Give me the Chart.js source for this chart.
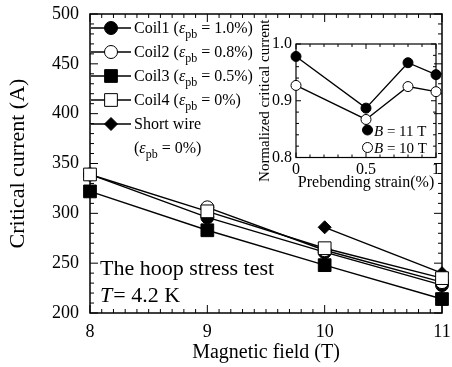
<!DOCTYPE html>
<html>
<head>
<meta charset="utf-8">
<script src="https://cdn.jsdelivr.net/npm/chart.js@4.4.0/dist/chart.umd.min.js"></script>
<style>
  html, body { margin: 0; padding: 0; background: #fff; }
  #wrap { position: relative; width: 452px; height: 367px; }
  #main { position: absolute; left: 0; top: 0; }
  #inset { position: absolute; left: 248px; top: 0; }
</style>
</head>
<body>
<div id="wrap">
  <canvas id="main" width="452" height="367" style="width:452px;height:367px"></canvas>
  <canvas id="inset" width="200" height="195" style="width:200px;height:195px"></canvas>
</div>
<script>
// --- main plot data (critical current vs field) ---
const fieldT = [8, 9, 10, 11];
const coil1Ic = [339, 296, 261, 228];
const coil2Ic = [null, 306, 263, 231];   // no 8 T point for coil2
const coil3Ic = [322, 283, 248, 214];
const coil4Ic = [339, 302, 265, 235];
const shortWireField = [10, 11];
const shortWireIc = [286, 240];

const seriesNames = ['Coil1', 'Coil2', 'Coil3', 'Coil4', 'Short wire'];
const prebendLabels = ['1.0%', '0.8%', '0.5%', '0%', '0%'];

const icTicks = [200, 250, 300, 350, 400, 450, 500];
const fieldTicks = [8, 9, 10, 11];

// --- inset data (normalized Ic vs prebending strain) ---
const strainPct = [0, 0.5, 0.8, 1.0];
const norm11T = [0.978, 0.887, 0.967, 0.946];
const norm10T = [0.927, 0.867, 0.925, 0.916];
const insetNames = ['11 T', '10 T'];

const normTicks = [0.8, 0.9, 1.0];
const strainTicks = [0, 0.5, 1];

const SERIF = '"Liberation Serif", "Times New Roman", serif';
Chart.defaults.font.family = SERIF;
Chart.defaults.color = '#000';

const pairs = (xs, ys) => xs.map((x, i) => ({ x: x, y: ys[i] }));

// 텍스트 조각 그리기 (italic / subscript)
function drawRich(ctx, x, y, parts, size) {
    ctx.textAlign = 'left';
    ctx.textBaseline = 'alphabetic';
    parts.forEach(([t, kind]) => {
        const fs = kind === 's' ? Math.round(size * 0.75) : size;
        ctx.font = (kind === 'i' ? 'italic ' : '') + fs + 'px ' + SERIF;
        ctx.fillText(t, x, y + (kind === 's' ? size * 0.33 : 0));
        x += ctx.measureText(t).width;
    });
    return x;
}

function drawMarker(ctx, ds, x, y) {
    ctx.save();
    ctx.fillStyle = ds.pointBackgroundColor;
    ctx.strokeStyle = ds.pointBorderColor;
    ctx.lineWidth = ds.pointBorderWidth;
    Chart.helpers.drawPoint(ctx, {
        pointStyle: ds.pointStyle,
        radius: ds.pointRadius,
        borderWidth: ds.pointBorderWidth,
        rotation: 0
    }, x, y);
    ctx.restore();
}

// inward ticks on all four sides + frame
const frameTicks = {
    id: 'frameTicks',
    beforeDatasetsDraw(chart, args, o) {
        const { ctx, chartArea: a, scales: { x, y } } = chart;
        ctx.save();
        ctx.strokeStyle = '#000';
        ctx.lineWidth = o.tickWidth;
        const isMajor = (scale, v) => scale.ticks.some(t => Math.abs(t.value - v) < 1e-6);

        let n = Math.round((x.max - x.min) / o.xMinor);
        for (let i = 0; i <= n; i++) {
            const v = x.min + i * o.xMinor;
            const len = isMajor(x, v) ? o.major : o.minor;
            const px = x.getPixelForValue(v);
            ctx.beginPath();
            ctx.moveTo(px, a.bottom); ctx.lineTo(px, a.bottom - len);
            ctx.moveTo(px, a.top); ctx.lineTo(px, a.top + len);
            ctx.stroke();
        }
        n = Math.round((y.max - y.min) / o.yMinor);
        for (let i = 0; i <= n; i++) {
            const v = y.min + i * o.yMinor;
            const len = isMajor(y, v) ? o.major : o.minor;
            const py = y.getPixelForValue(v);
            ctx.beginPath();
            ctx.moveTo(a.left, py); ctx.lineTo(a.left + len, py);
            ctx.moveTo(a.right, py); ctx.lineTo(a.right - len, py);
            ctx.stroke();
        }
        ctx.lineWidth = o.frameWidth;
        ctx.strokeRect(a.left, a.top, a.right - a.left, a.bottom - a.top);
        ctx.restore();
    }
};

// legend + annotation for the main plot
const mainNotes = {
    id: 'mainNotes',
    afterDraw(chart) {
        const ctx = chart.ctx;
        const dsets = chart.data.datasets;
        ctx.save();
        ctx.fillStyle = '#000';
        seriesNames.forEach((name, i) => {
            const cy = 28 + i * 24;
            ctx.strokeStyle = '#000';
            ctx.lineWidth = 1.4;
            ctx.beginPath(); ctx.moveTo(91, cy); ctx.lineTo(131, cy); ctx.stroke();
            drawMarker(ctx, dsets[i], 111, cy);
            const eps = [['ε', 'i'], ['pb', 's'], [' = ' + prebendLabels[i] + ')', 'n']];
            if (i < 4) {
                drawRich(ctx, 134, cy + 5, [[name + ' (', 'n']].concat(eps), 16);
            } else {
                drawRich(ctx, 134, cy + 5, [[name, 'n']], 16);
                drawRich(ctx, 134, cy + 29, [['(', 'n']].concat(eps), 16);
            }
        });
        drawRich(ctx, 100, 275, [['The hoop stress test', 'n']], 22);
        const tx = drawRich(ctx, 100, 302, [['T', 'i']], 22);
        drawRich(ctx, tx + 1, 302, [['= 4.2 K', 'n']], 22);
        ctx.restore();
    }
};

const insetNotes = {
    id: 'insetNotes',
    afterDraw(chart) {
        const ctx = chart.ctx;
        const dsets = chart.data.datasets;
        ctx.save();
        ctx.fillStyle = '#000';
        insetNames.forEach((name, i) => {
            const cy = 130 + i * 17.5;
            drawMarker(ctx, dsets[i], 119.5, cy);
            drawRich(ctx, 126, cy + 5.5, [['B', 'i'], [' = ' + name, 'n']], 15);
        });
        ctx.restore();
    }
};

const lineDs = (label, xs, ys, style, radius, filled, order) => ({
    label: label,
    data: pairs(xs, ys),
    borderColor: '#000',
    borderWidth: 1.4,
    pointStyle: style,
    pointRadius: radius,
    pointHoverRadius: radius,
    pointBackgroundColor: filled ? '#000' : '#fff',
    pointBorderColor: '#000',
    pointBorderWidth: 1,
    tension: 0,
    clip: false,
    order: order
});

const zeroPad = s => { s.paddingLeft = 0; s.paddingRight = 0; s.paddingTop = 0; s.paddingBottom = 0; };

new Chart(document.getElementById('main'), {
    type: 'line',
    data: {
        datasets: [
            lineDs(seriesNames[0], fieldT, coil1Ic, 'circle', 6.5, true, 2),
            lineDs(seriesNames[1], fieldT, coil2Ic, 'circle', 6.5, false, 1),
            lineDs(seriesNames[2], fieldT, coil3Ic, 'rect', 9, true, 3),
            lineDs(seriesNames[3], fieldT, coil4Ic, 'rect', 9, false, 0),
            lineDs(seriesNames[4], shortWireField, shortWireIc, 'rectRot', 6.5, true, 4)
        ]
    },
    options: {
        responsive: false,
        animation: false,
        events: [],
        layout: { padding: { left: 0, right: 4.5, top: 14, bottom: 0 } },
        plugins: {
            legend: { display: false },
            tooltip: { enabled: false },
            frameTicks: { xMinor: 0.1, yMinor: 10, major: 8, minor: 4, tickWidth: 1, frameWidth: 1.5 }
        },
        scales: {
            x: {
                type: 'linear', min: 8, max: 11,
                afterBuildTicks: s => { s.ticks = fieldTicks.map(v => ({ value: v })); },
                afterFit: s => { s.height = 54; zeroPad(s); },
                grid: { display: false, drawTicks: false },
                border: { display: false },
                ticks: { font: { size: 18 }, padding: 8, maxRotation: 0 },
                title: { display: true, text: 'Magnetic field (T)', font: { size: 20 }, padding: { top: 0, bottom: 2 } }
            },
            y: {
                type: 'linear', min: 200, max: 500,
                afterBuildTicks: s => { s.ticks = icTicks.map(v => ({ value: v })); },
                afterFit: s => { s.width = 90; zeroPad(s); },
                grid: { display: false, drawTicks: false },
                border: { display: false },
                ticks: { font: { size: 18 }, padding: 11 },
                title: { display: true, text: 'Critical current (A)', font: { size: 22 }, padding: { top: 5, bottom: 0 } }
            }
        }
    },
    plugins: [frameTicks, mainNotes]
});

new Chart(document.getElementById('inset'), {
    type: 'line',
    data: {
        datasets: [
            lineDs('B = 11 T', strainPct, norm11T, 'circle', 5, true, 0),
            lineDs('B = 10 T', strainPct, norm10T, 'circle', 5, false, 1)
        ]
    },
    options: {
        responsive: false,
        animation: false,
        events: [],
        layout: { padding: { left: 0, right: 12, top: 44, bottom: 0 } },
        elements: { line: { borderWidth: 1.1 } },
        plugins: {
            legend: { display: false },
            tooltip: { enabled: false },
            frameTicks: { xMinor: 0.1, yMinor: 0.02, major: 5, minor: 3, tickWidth: 1, frameWidth: 1.2 }
        },
        scales: {
            x: {
                type: 'linear', min: 0, max: 1,
                afterBuildTicks: s => { s.ticks = strainTicks.map(v => ({ value: v })); },
                afterFit: s => { s.height = 37.5; zeroPad(s); },
                grid: { display: false, drawTicks: false },
                border: { display: false },
                ticks: { font: { size: 16 }, padding: 3, maxRotation: 0, callback: v => String(v) },
                title: { display: true, text: 'Prebending strain(%)', font: { size: 16 }, padding: { top: 0, bottom: 3 } }
            },
            y: {
                type: 'linear', min: 0.8, max: 1.0,
                afterBuildTicks: s => { s.ticks = normTicks.map(v => ({ value: v })); },
                afterFit: s => { s.width = 48; zeroPad(s); },
                grid: { display: false, drawTicks: false },
                border: { display: false },
                ticks: { font: { size: 16 }, padding: 4, callback: v => v.toFixed(1) },
                title: { display: true, text: 'Normalized critical current', font: { size: 15 }, padding: { top: 8, bottom: 0 } }
            }
        }
    },
    plugins: [frameTicks, insetNotes]
});
</script>
</body>
</html>
